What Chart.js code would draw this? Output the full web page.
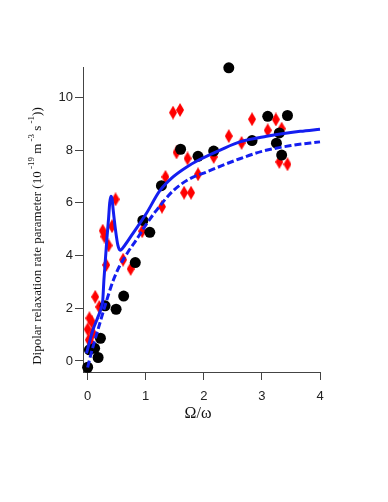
<!DOCTYPE html>
<html>
<head>
<meta charset="utf-8">
<script src="https://cdn.jsdelivr.net/npm/chart.js@4.4.1/dist/chart.umd.min.js"></script>
<style>
html,body{margin:0;padding:0;background:#fff;}
canvas{display:block;}
</style>
</head>
<body>
<canvas id="c" width="388" height="502"></canvas>
<script>
// ---- data ----
const xTicks = [0, 1, 2, 3, 4];
const yTicks = [0, 2, 4, 6, 8, 10];

const circleX = [0.00, 0.03, 0.12, 0.18, 0.22, 0.30, 0.49, 0.62, 0.82, 0.95, 1.07, 1.27, 1.60, 1.90, 2.17, 2.43, 2.83, 3.10, 3.44, 3.30, 3.25, 3.34];
const circleY = [-0.24, 0.42, 0.48, 0.13, 0.86, 2.09, 1.96, 2.46, 3.73, 5.33, 4.88, 6.65, 8.03, 7.76, 7.96, 11.12, 8.36, 9.28, 9.31, 8.65, 8.26, 7.81];

const diamondX = [0.02, 0.06, 0.00, 0.09, 0.03, 0.07, 0.13, 0.20, 0.26, 0.29, 0.36, 0.32, 0.42, 0.48, 0.61, 0.74, 0.94, 1.28, 1.34, 1.47, 1.59, 1.53, 1.72, 1.66, 1.78, 1.90, 2.17, 2.43, 2.65, 2.83, 3.10, 3.24, 3.34, 3.30, 3.44];
const diamondY = [0.80, 0.67, 1.20, 1.05, 1.62, 1.49, 2.43, 2.05, 4.94, 4.72, 4.38, 3.64, 5.11, 6.13, 3.84, 3.49, 4.92, 5.85, 6.98, 9.42, 9.52, 7.91, 7.68, 6.38, 6.38, 7.08, 7.74, 8.53, 8.27, 9.17, 8.75, 9.16, 8.81, 7.55, 7.46];

const solidX = [-0.02, 0.09, 0.18, 0.24, 0.26, 0.28, 0.33, 0.36, 0.38, 0.40, 0.42, 0.44, 0.48, 0.52, 0.56, 0.64, 0.78, 1.01, 1.24, 1.47, 1.70, 1.93, 2.30, 2.62, 3.08, 3.66, 4.00];
const solidY = [0.29, 1.17, 1.68, 2.06, 2.30, 3.07, 4.60, 5.40, 6.00, 6.25, 6.15, 5.72, 4.96, 4.39, 4.20, 4.39, 4.84, 5.59, 6.45, 6.98, 7.35, 7.64, 8.02, 8.31, 8.52, 8.71, 8.79];

const dashX = [0.00, 0.05, 0.10, 0.21, 0.30, 0.44, 0.55, 0.70, 0.84, 1.00, 1.18, 1.47, 1.75, 2.05, 2.30, 2.62, 3.00, 3.50, 4.00];
const dashY = [-0.25, 0.20, 0.60, 1.43, 2.10, 3.05, 3.60, 4.15, 4.60, 5.15, 5.70, 6.45, 6.90, 7.17, 7.40, 7.67, 7.95, 8.17, 8.31];

const xTitle = "\u03A9/\u03C9";
const yTitleParts = [
  ["Dipolar relaxation rate parameter (10", false],
  [" -19", true],
  [" m", false],
  [" -3", true],
  [" s", false],
  [" -1", true],
  ["))", false]
];

// ---- helpers ----
const pts = (xs, ys) => xs.map((x, i) => ({x: x, y: ys[i]}));

function diamondCanvas() {
  const c = document.createElement('canvas');
  c.width = 8; c.height = 14;
  const g = c.getContext('2d');
  g.fillStyle = '#ff0000';
  g.beginPath();
  g.moveTo(4, 0); g.lineTo(8, 7); g.lineTo(4, 14); g.lineTo(0, 7); g.closePath();
  g.fill();
  return c;
}

const titlePlugin = {
  id: 'titles',
  beforeDraw(chart) {
    const ctx = chart.ctx;
    ctx.save();
    ctx.fillStyle = '#fff';
    ctx.fillRect(0, 0, chart.width, chart.height);
    ctx.restore();
  },
  afterDraw(chart) {
    const ctx = chart.ctx;
    ctx.save();
    ctx.fillStyle = '#111';
    ctx.textBaseline = 'middle';
    ctx.textAlign = 'center';
    ctx.font = '16px "Liberation Serif", "DejaVu Serif", serif';
    ctx.fillText(xTitle, 198, 414);
    // y title, rotated, with superscripts
    const mainFont = '13px "Liberation Serif", "DejaVu Serif", serif';
    const supFont = '9px "Liberation Serif", "DejaVu Serif", serif';
    ctx.translate(38, 236);
    ctx.rotate(-Math.PI / 2);
    ctx.textAlign = 'left';
    let total = 0;
    yTitleParts.forEach(p => { ctx.font = p[1] ? supFont : mainFont; total += ctx.measureText(p[0]).width; });
    let x = -total / 2;
    yTitleParts.forEach(p => {
      ctx.font = p[1] ? supFont : mainFont;
      ctx.fillText(p[0], x, p[1] ? -6 : 0);
      x += ctx.measureText(p[0]).width;
    });
    ctx.restore();
  }
};

const tickFont = {family: '"Liberation Sans", Arial, sans-serif', size: 13};

new Chart(document.getElementById('c'), {
  type: 'scatter',
  data: {
    datasets: [
      {
        label: 'fit',
        data: pts(solidX, solidY),
        showLine: true,
        borderColor: 'rgb(20,30,240)',
        borderWidth: 3,
        pointRadius: 0,
        cubicInterpolationMode: 'monotone',
        clip: false,
        order: 0
      },
      {
        label: 'fit2',
        data: pts(dashX, dashY),
        showLine: true,
        borderColor: 'rgb(20,30,240)',
        borderWidth: 3,
        borderDash: [7, 3],
        pointRadius: 0,
        cubicInterpolationMode: 'monotone',
        clip: false,
        order: 0
      },
      {
        label: 'circles',
        data: pts(circleX, circleY),
        pointStyle: 'circle',
        pointRadius: 5.5,
        pointBackgroundColor: '#000',
        pointBorderWidth: 0,
        clip: false,
        order: 1
      },
      {
        label: 'diamonds',
        data: pts(diamondX, diamondY),
        pointStyle: diamondCanvas(),
        pointRadius: 6,
        clip: false,
        order: 2
      }
    ]
  },
  options: {
    responsive: false,
    animation: false,
    devicePixelRatio: 1,
    layout: {padding: {left: 0, right: 68, top: 67, bottom: 0}},
    plugins: {legend: {display: false}, tooltip: {enabled: false}},
    scales: {
      x: {
        type: 'linear',
        min: -0.08, max: 4.0,
        afterBuildTicks: s => { s.ticks = xTicks.map(v => ({value: v})); },
        afterFit: s => { s.height = 130; },
        ticks: {font: tickFont, color: '#222', padding: 9, maxRotation: 0, callback: v => String(v)},
        grid: {drawOnChartArea: false, drawTicks: true, tickLength: 8, color: '#444'},
        border: {display: true, color: '#444', width: 1}
      },
      y: {
        type: 'linear',
        min: -0.42, max: 11.15,
        afterBuildTicks: s => { s.ticks = yTicks.map(v => ({value: v})); },
        afterFit: s => { s.width = 83; },
        ticks: {font: tickFont, color: '#222', padding: 2, callback: v => String(v)},
        grid: {drawOnChartArea: false, drawTicks: true, tickLength: 8, color: '#444'},
        border: {display: true, color: '#444', width: 1}
      }
    }
  },
  plugins: [titlePlugin]
});
</script>
</body>
</html>
